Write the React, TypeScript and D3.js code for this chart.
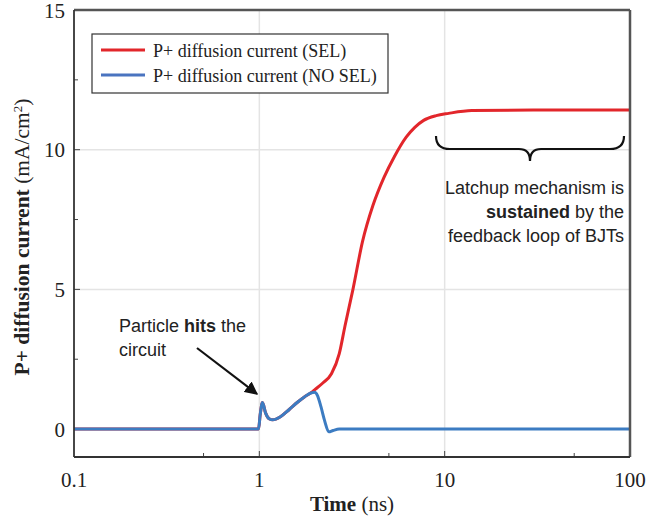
import React from "react";
import * as d3 from "d3";

// time (ns) and current (mA/cm2)
const blueTime = [0.1, 0.99, 1.01, 1.04, 1.08, 1.13, 1.18, 1.3, 1.45, 1.6, 1.75, 1.9, 1.98, 2.06, 2.15, 2.25, 2.37, 2.5, 2.7, 100];
const blueValue = [0, 0, 0.5, 0.95, 0.58, 0.37, 0.33, 0.44, 0.7, 0.95, 1.15, 1.29, 1.32, 1.2, 0.8, 0.3, -0.1, -0.05, 0, 0];

const redTime = [0.1, 0.99, 1.01, 1.04, 1.08, 1.13, 1.18, 1.3, 1.45, 1.6, 1.75, 1.9, 2.0, 2.2, 2.45, 2.7, 2.9, 3.2, 3.6, 4.1, 4.7, 5.35, 6.2, 6.9, 7.7, 9.0, 10.5, 14, 30, 100];
const redValue = [0, 0, 0.5, 0.95, 0.58, 0.37, 0.33, 0.44, 0.7, 0.95, 1.15, 1.3, 1.42, 1.65, 1.98, 2.7, 3.7, 5.0, 6.7, 8.0, 9.0, 9.75, 10.45, 10.8, 11.05, 11.22, 11.3, 11.4, 11.42, 11.42];

const xTicks = [0.1, 1, 10, 100];
const xMinor = [0.5, 5, 50];
const yTicks = [0, 5, 10, 15];
const yMinor = [2.5, 7.5, 12.5];
const seriesNames = ["P+ diffusion current (SEL)", "P+ diffusion current (NO SEL)"];
const seriesColors = ["#e2262b", "#3c7cc2"];

const W = 646;
const H = 520;
const m = { left: 74, right: 16, top: 10, bottom: 63 };

export default function App() {
  const x = d3.scaleLog().domain([0.1, 100]).range([m.left, W - m.right]);
  const y = d3.scaleLinear().domain([-1, 15]).range([H - m.bottom, m.top]);

  const line = d3
    .line<[number, number]>()
    .x(d => x(d[0]))
    .y(d => y(d[1]))
    .curve(d3.curveMonotoneX);

  const red = redTime.map((t, i) => [t, redValue[i]] as [number, number]);
  const blue = blueTime.map((t, i) => [t, blueValue[i]] as [number, number]);

  const serif = "'Liberation Serif', 'Times New Roman', serif";
  const sans = "'Liberation Sans', Arial, sans-serif";

  const x0 = m.left;
  const x1 = W - m.right;
  const y0 = H - m.bottom;
  const y1 = m.top;

  // brace
  const bx0 = 436, bx1 = 624, by = 149, bm = 530;
  const brace = `M${bx0},${by - 13} Q${bx0},${by} ${bx0 + 14},${by} L${bm - 11},${by} Q${bm},${by} ${bm},${by + 12} Q${bm},${by} ${bm + 11},${by} L${bx1 - 14},${by} Q${bx1},${by} ${bx1},${by - 13}`;

  return (
    <svg width={W} height={H} style={{ position: "absolute", left: 0, top: 0 }}>
      <defs>
        <marker id="arrow" viewBox="0 0 10 10" refX="9" refY="5" markerWidth="6" markerHeight="6" orient="auto">
          <path d="M0,0 L10,5 L0,10 z" fill="#111" />
        </marker>
      </defs>
      <rect width={W} height={H} fill="#fff" />
      {/* grid */}
      {[1, 10].map(v => (
        <line key={"gx" + v} x1={x(v)} x2={x(v)} y1={y1} y2={y0} stroke="#e4e4e4" strokeWidth={1.5} />
      ))}
      {[5, 10].map(v => (
        <line key={"gy" + v} x1={x0} x2={x1} y1={y(v)} y2={y(v)} stroke="#e4e4e4" strokeWidth={1.5} />
      ))}
      {/* ticks */}
      {xTicks.slice(1, -1).map(v => (
        <line key={"tx" + v} x1={x(v)} x2={x(v)} y1={y0} y2={y0 - 6} stroke="#444" strokeWidth={1} />
      ))}
      {xMinor.map(v => (
        <line key={"mx" + v} x1={x(v)} x2={x(v)} y1={y0} y2={y0 - 4} stroke="#444" strokeWidth={1} />
      ))}
      {yTicks.slice(1, -1).map(v => (
        <line key={"ty" + v} x1={x0} x2={x0 + 6} y1={y(v)} y2={y(v)} stroke="#444" strokeWidth={1} />
      ))}
      {yMinor.map(v => (
        <line key={"my" + v} x1={x0} x2={x0 + 4} y1={y(v)} y2={y(v)} stroke="#444" strokeWidth={1} />
      ))}
      {/* curves */}
      <path d={line(red) || ""} fill="none" stroke={seriesColors[0]} strokeWidth={3} />
      <path d={line(blue) || ""} fill="none" stroke={seriesColors[1]} strokeWidth={3} />
      {/* frame */}
      <line x1={x0} x2={x1} y1={y1} y2={y1} stroke="#555" strokeWidth={2.5} />
      <line x1={x1} x2={x1} y1={y1} y2={y0} stroke="#555" strokeWidth={2.5} />
      <line x1={x0} x2={x0} y1={y1} y2={y0} stroke="#333" strokeWidth={1.8} />
      <line x1={x0} x2={x1} y1={y0} y2={y0} stroke="#333" strokeWidth={1.8} />
      {/* tick labels */}
      {xTicks.map(v => (
        <text key={"lx" + v} x={x(v)} y={y0 + 30} textAnchor="middle" fontFamily={serif} fontSize={21} fill="#222">
          {v}
        </text>
      ))}
      {yTicks.map(v => (
        <text key={"ly" + v} x={x0 - 9} y={y(v) + 7.5} textAnchor="end" fontFamily={serif} fontSize={21} fill="#222">
          {v}
        </text>
      ))}
      {/* axis titles */}
      <text x={(x0 + x1) / 2} y={511} textAnchor="middle" fontFamily={serif} fontSize={21} fill="#222">
        <tspan fontWeight="bold">Time</tspan> (ns)
      </text>
      <text transform={`translate(29,237) rotate(-90)`} textAnchor="middle" fontFamily={serif} fontSize={21.5} fill="#222">
        <tspan fontWeight="bold">P+ diffusion current</tspan> (mA/cm<tspan baselineShift="super" fontSize={13}>2</tspan>)
      </text>
      {/* legend */}
      <rect x={92} y={34} width={296} height={59} fill="#fff" stroke="#333" strokeWidth={1.2} />
      {seriesNames.map((n, i) => (
        <g key={n}>
          <line x1={101} x2={145} y1={50 + i * 25} y2={50 + i * 25} stroke={i === 0 ? seriesColors[0] : "#4a74c0"} strokeWidth={3} />
          <text x={153} y={56.5 + i * 25} fontFamily={serif} fontSize={18} fill="#222">
            {n}
          </text>
        </g>
      ))}
      {/* annotations */}
      <text fontFamily={sans} fontSize={18} fill="#222">
        <tspan x={119} y={332}>Particle <tspan fontWeight="bold">hits</tspan> the</tspan>
        <tspan x={119} y={356}>circuit</tspan>
      </text>
      <line x1={197} y1={348} x2={257} y2={394} stroke="#111" strokeWidth={2.2} markerEnd="url(#arrow)" />
      <path d={brace} fill="none" stroke="#111" strokeWidth={2.2} />
      <text fontFamily={sans} fontSize={18} fill="#222" textAnchor="end">
        <tspan x={624} y={194}>Latchup mechanism is</tspan>
        <tspan x={624} y={218}><tspan fontWeight="bold">sustained</tspan> by the</tspan>
        <tspan x={624} y={242}>feedback loop of BJTs</tspan>
      </text>
    </svg>
  );
}
